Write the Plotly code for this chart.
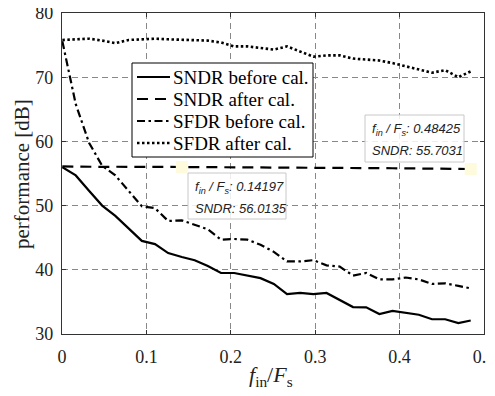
import plotly.graph_objects as go

# normalized input frequency f_in/F_s
f_ratio = [0.0004, 0.0163, 0.0320, 0.0476, 0.0632, 0.0790, 0.0946, 0.1102, 0.1258, 0.14197,
           0.1572, 0.1728, 0.1884, 0.2040, 0.2196, 0.2352, 0.2510, 0.2666, 0.2822, 0.2978,
           0.3134, 0.3290, 0.3448, 0.3604, 0.3760, 0.3916, 0.4072, 0.4228, 0.4384, 0.4540,
           0.4696, 0.48425]

sndr_before = [56.0, 54.7, 52.3, 50.0, 48.4, 46.5, 44.5, 44.0, 42.6, 42.0,
               41.5, 40.6, 39.5, 39.5, 39.1, 38.7, 37.8, 36.2, 36.4, 36.2,
               36.4, 35.3, 34.2, 34.15, 33.1, 33.6, 33.3, 33.0, 32.3, 32.3,
               31.7, 32.1]

sndr_after = [56.10, 56.05, 56.05, 56.03, 56.05, 56.02, 56.02, 56.03, 56.01, 56.0135,
              56.00, 55.98, 55.97, 55.98, 55.96, 55.95, 55.94, 55.93, 55.92, 55.90,
              55.90, 55.88, 55.86, 55.85, 55.83, 55.82, 55.80, 55.78, 55.76, 55.74,
              55.72, 55.7031]

sfdr_before = [75.6, 65.8, 59.8, 56.2, 54.7, 52.3, 49.9, 49.6, 47.6, 47.7,
               47.0, 46.3, 44.7, 44.8, 44.7, 43.9, 42.8, 41.3, 41.3, 41.5,
               40.7, 40.5, 39.1, 39.5, 38.5, 38.5, 38.8, 38.5, 37.8, 37.9,
               37.5, 37.1]

sfdr_after = [75.8, 75.9, 76.0, 75.7, 75.3, 75.8, 75.9, 76.0, 75.9, 75.8,
              75.8, 75.7, 75.4, 74.8, 74.8, 74.6, 74.3, 74.8, 74.0, 73.2,
              73.4, 73.4, 72.9, 72.7, 72.6, 72.2, 71.7, 71.2, 70.7, 71.1,
              70.0, 70.9]

series_names = ["SNDR before cal.", "SNDR after cal.", "SFDR before cal.", "SFDR after cal."]
x_ticks = [0, 0.1, 0.2, 0.3, 0.4, 0.5]
x_tick_labels = ["0", "0.1", "0.2", "0.3", "0.4", "0.5"]
y_ticks = [30, 40, 50, 60, 70, 80]
y_tick_labels = ["30", "40", "50", "60", "70", "80"]
tip_idx = [9, 31]

SERIF = "Liberation Serif"
OFF = 8                      # page offset of the figure (default body margin)
W, H = 495, 396
L, T = 54, 5
PW, PH = 422, 321
R, B = W - L - PW, H - T - PH


def px(xp):
    """page pixel x -> paper"""
    return (xp - OFF - L) / PW


def py(yp):
    """page pixel y -> paper"""
    return (T + PH - (yp - OFF)) / PH


styles = [
    dict(color="black", width=2.2),
    dict(color="black", width=2.2, dash="11px,7px"),
    dict(color="black", width=2.2, dash="8px,3.5px,2.5px,3.5px"),
    dict(color="black", width=2.6, dash="2.5px,2.5px"),
]
series = [sndr_before, sndr_after, sfdr_before, sfdr_after]

fig = go.Figure()
for name, ys, st in zip(series_names, series, styles):
    fig.add_trace(go.Scatter(x=f_ratio, y=ys, mode="lines", name=name,
                             line=st, showlegend=False))

# data-tip markers
fig.add_trace(go.Scatter(x=[f_ratio[i] for i in tip_idx], y=[sndr_after[i] for i in tip_idx],
                         mode="markers", showlegend=False,
                         marker=dict(symbol="square", size=12, color="#fdfbdc",
                                     line=dict(width=0))))

shapes = []
annotations = []

# legend (drawn manually to match box geometry)
leg_box = (132, 63, 313, 157)
shapes.append(dict(type="rect", xref="paper", yref="paper", layer="above",
                   x0=px(leg_box[0]), x1=px(leg_box[2]), y0=py(leg_box[3]), y1=py(leg_box[1]),
                   line=dict(color="black", width=1), fillcolor="white"))
row_y = [77, 99, 121, 143]
for name, st, ry in zip(series_names, styles, row_y):
    shapes.append(dict(type="line", xref="paper", yref="paper", layer="above",
                       x0=px(137), x1=px(170), y0=py(ry), y1=py(ry),
                       line=st))
    annotations.append(dict(xref="paper", yref="paper", x=px(171), y=py(ry),
                            xanchor="left", yanchor="middle", showarrow=False,
                            text=name, font=dict(family=SERIF, size=19, color="black")))

# data tips
tip_boxes = [(188, 173, 286, 219), (365, 115, 464, 162)]
for (x0, y0, x1, y1), i in zip(tip_boxes, tip_idx):
    shapes.append(dict(type="rect", xref="paper", yref="paper", layer="above",
                       x0=px(x0), x1=px(x1), y0=py(y1), y1=py(y0),
                       line=dict(color="#c8c8c8", width=1),
                       fillcolor="rgba(255,255,255,0.85)"))
    lines = [f"<i>f<sub>in</sub> / F<sub>s</sub>: {f_ratio[i]:.5f}</i>",
             f"<i>SNDR: {sndr_after[i]:.4f}</i>"]
    for k, txt in enumerate(lines):
        annotations.append(dict(xref="paper", yref="paper", x=px(x0 + 5),
                                y=py(y0 + 14 + 21 * k),
                                xanchor="left", yanchor="middle", showarrow=False,
                                text=txt,
                                font=dict(family="Liberation Sans", size=13, color="#222")))

# axis titles
annotations.append(dict(xref="paper", yref="paper", x=px(22), y=py(174),
                        xanchor="center", yanchor="middle", showarrow=False,
                        textangle=-90, text="performance [dB]",
                        font=dict(family=SERIF, size=21, color="#222")))
annotations.append(dict(xref="paper", yref="paper", x=px(271), y=py(376),
                        xanchor="center", yanchor="middle", showarrow=False,
                        text="<i>f</i><sub>in</sub>/<i>F</i><sub>s</sub>",
                        font=dict(family=SERIF, size=22, color="#222")))

axis_common = dict(
    showline=True, linecolor="#333", linewidth=1.2, mirror="ticks",
    ticks="inside", ticklen=4, tickcolor="#333",
    showgrid=True, gridcolor="#888", gridwidth=1, griddash="6px,4px",
    zeroline=False, automargin=False, ticklabeloverflow="allow",
    tickfont=dict(family=SERIF, size=18, color="#222"),
)

fig.update_xaxes(range=[0, 0.5], tickvals=x_ticks, ticktext=x_tick_labels,
                 ticklabelstandoff=6, **axis_common)
fig.update_yaxes(range=[30, 80], tickvals=y_ticks, ticktext=y_tick_labels,
                 ticklabelstandoff=4, **axis_common)

fig.update_layout(
    width=W, height=H,
    margin=dict(l=L, r=R, t=T, b=B),
    paper_bgcolor="white", plot_bgcolor="white",
    showlegend=False,
    shapes=shapes, annotations=annotations,
)

fig.write_html("out.html")
